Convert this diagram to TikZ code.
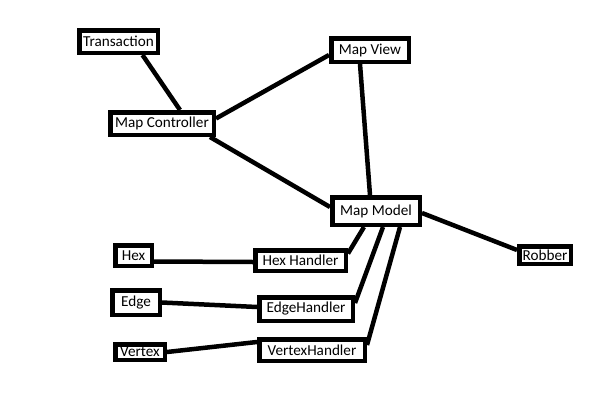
\documentclass[tikz,border=0pt]{standalone}
\usepackage{fontspec}
\setmainfont{Carlito}
\usetikzlibrary{backgrounds}
\begin{document}
\begin{tikzpicture}[x=1pt,y=-1pt,
  box/.style={draw=black,line width=4.5pt,fill=white,inner sep=0pt,
    font=\fontsize{15.2}{16}\selectfont},
  link/.style={line width=4.5pt,draw=black}]
\useasboundingbox (0,0) rectangle (608,402);
\node[box,minimum width=78.5pt,minimum height=22.5pt] (tr) at (118.5,41.5) {Transaction};
\node[box,minimum width=103.5pt,minimum height=22.5pt] (mc) at (162,123.5) {Map Controller};
\node[box,minimum width=77.5pt,minimum height=23.5pt] (mv) at (370,50) {Map View};
\node[box,minimum width=87.5pt,minimum height=27.5pt] (mm) at (376,211) {Map Model};
\node[box,minimum width=51.5pt,minimum height=17.5pt] (rb) at (545,255) {Robber};
\node[box,minimum width=36.5pt,minimum height=20.5pt] (hex) at (133.5,255.5) {Hex};
\node[box,minimum width=90.5pt,minimum height=20.5pt] (hh) at (300.5,260.5) {Hex Handler};
\node[box,minimum width=47.5pt,minimum height=24.5pt] (ed) at (136,302.5) {Edge};
\node[box,minimum width=93.5pt,minimum height=23.5pt] (eh) at (306,309) {EdgeHandler};
\node[box,minimum width=49.5pt,minimum height=15.5pt] (vx) at (140,352) {Vertex};
\node[box,minimum width=105.5pt,minimum height=21.5pt] (vh) at (312,350) {VertexHandler};
\begin{pgfonlayer}{background}
\fill[white] (0,0) rectangle (608,402);
\draw[link] ([xshift=24pt]tr.south) -- ([xshift=18pt]mc.north);
\draw[link] ([yshift=5pt]mc.east) -- ([yshift=-5pt]mv.west);
\draw[link] ([xshift=-6pt]mc.south east) -- ([yshift=4pt]mm.west);
\draw[link] ([xshift=-10pt]mv.south) -- ([xshift=-6pt]mm.north);
\draw[link] ([yshift=-2pt]mm.east) -- ([yshift=5pt]rb.west);
\draw[link] ([xshift=-12pt]mm.south) -- ([yshift=7pt]hh.east);
\draw[link] ([xshift=7pt]mm.south) -- ([yshift=6pt]eh.east);
\draw[link] ([xshift=24pt]mm.south) -- ([yshift=5pt]vh.east);
\draw[link] ([yshift=-6pt]hex.east) -- ([yshift=-1.5pt]hh.west);
\draw[link] (ed.east) -- ([yshift=2pt]eh.west);
\draw[link] (vx.east) -- ([yshift=8pt]vh.west);
\end{pgfonlayer}
\end{tikzpicture}
\end{document}
